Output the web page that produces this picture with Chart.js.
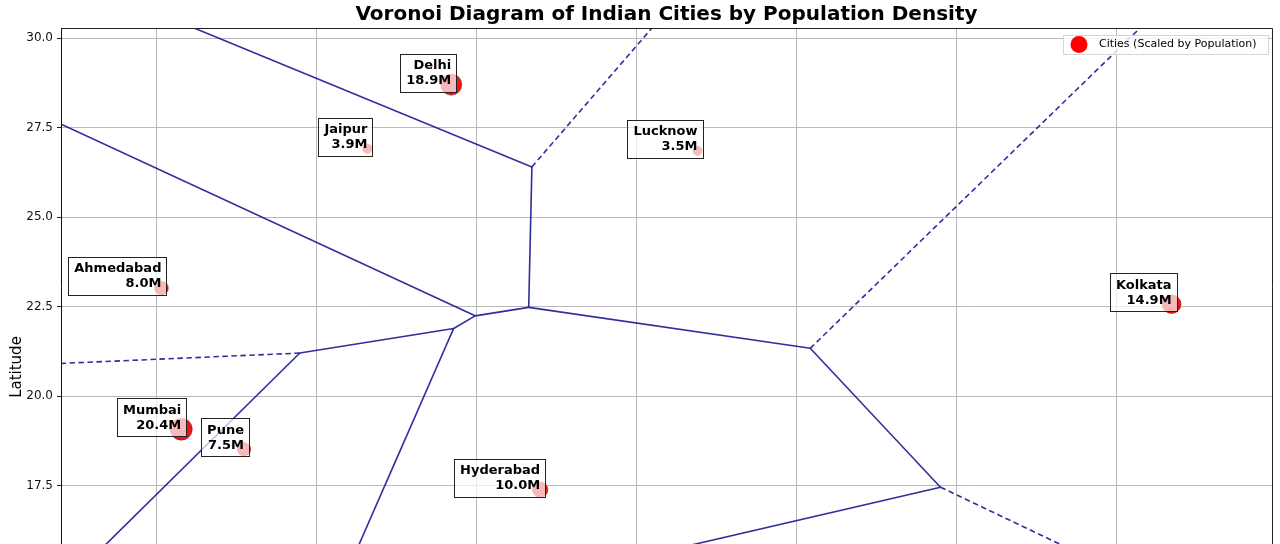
<!DOCTYPE html>
<html>
<head>
<meta charset="utf-8">
<script src="https://cdn.jsdelivr.net/npm/chart.js@4.4.0/dist/chart.umd.min.js"></script>
<style>
  html, body { margin: 0; padding: 0; background: #fff; overflow: hidden; }
</style>
</head>
<body>
<canvas id="voronoi-chart" width="1280" height="544"></canvas>
<script>
// cities (lon / lat / population in millions)
const cityNames = ["Mumbai", "Delhi", "Hyderabad", "Ahmedabad", "Kolkata", "Pune", "Jaipur", "Lucknow"];
const cityLon = [72.88, 77.10, 78.49, 72.57, 88.36, 73.86, 75.79, 80.95];
const cityLat = [19.08, 28.70, 17.39, 23.02, 22.57, 18.52, 26.91, 26.85];
const cityPop = [20.4, 18.9, 10.0, 8.0, 14.9, 7.5, 3.9, 3.5];

// voronoi vertices (some lie outside the visible area)
const vertexLon = [78.361, 78.311, 82.712, 77.473, 77.138, 74.733, 84.748, 78.850, 75.612, 69.103, 25.6];
const vertexLat = [26.402, 22.481, 21.337, 22.244, 21.892, 21.205, 17.460, 15.015, 15.669, 11.285, 65.14];
const solidEdges = [[0,1],[1,2],[1,3],[3,4],[4,5],[4,8],[5,9],[2,6],[6,7],[7,8],[8,9],[0,10],[3,10]];

// open ridges: start vertex -> far point
const dashedFrom = [0, 2, 5, 6];
const dashedToLon = [81.07, 88.86, 69.0, 88.81];
const dashedToLat = [32.0, 32.0, 20.76, 14.0];

const yTicks = [17.5, 20.0, 22.5, 25.0, 27.5, 30.0];

const ridgeColor = "rgba(10,10,140,0.85)";
const datasets = [{
  type: "scatter",
  label: "Cities (Scaled by Population)",
  data: cityLon.map((lon, i) => ({ x: lon, y: cityLat[i] })),
  pointRadius: cityPop.map(p => 11 * Math.sqrt(p / 20.4)),
  backgroundColor: "rgba(225,0,0,0.9)",
  borderColor: "rgba(160,0,0,0.5)",
  borderWidth: 1
}];
solidEdges.forEach(([a, b]) => {
  datasets.push({
    type: "scatter",
    showLine: true,
    data: [{ x: vertexLon[a], y: vertexLat[a] }, { x: vertexLon[b], y: vertexLat[b] }],
    borderColor: ridgeColor,
    borderWidth: 1.6,
    pointRadius: 0
  });
});
dashedFrom.forEach((v, i) => {
  datasets.push({
    type: "scatter",
    showLine: true,
    data: [{ x: vertexLon[v], y: vertexLat[v] }, { x: dashedToLon[i], y: dashedToLat[i] }],
    borderColor: ridgeColor,
    borderWidth: 1.6,
    borderDash: [5.5, 3.5],
    pointRadius: 0
  });
});

const decorations = {
  id: "decorations",
  afterDatasetsDraw(chart) {
    const { ctx, scales: { x, y } } = chart;
    ctx.save();
    // city labels
    ctx.font = 'bold 13px "DejaVu Sans"';
    cityNames.forEach((name, i) => {
      const px = x.getPixelForValue(cityLon[i]);
      const py = y.getPixelForValue(cityLat[i]);
      const pop = cityPop[i].toFixed(1) + "M";
      const w = Math.max(ctx.measureText(name).width, ctx.measureText(pop).width);
      const left = Math.round(px - w - 6), top = Math.round(py - 31);
      const right = Math.round(px + 5), bottom = Math.round(py + 7);
      ctx.fillStyle = "rgba(255,255,255,0.7)";
      ctx.fillRect(left, top, right - left, bottom - top);
      ctx.strokeStyle = "#222";
      ctx.lineWidth = 1;
      ctx.strokeRect(left + 0.5, top + 0.5, right - left, bottom - top);
      ctx.fillStyle = "#000";
      ctx.textAlign = "right";
      ctx.textBaseline = "middle";
      ctx.fillText(name, px, py - 19);
      ctx.fillText(pop, px, py - 4);
    });
    ctx.restore();
  },
  afterDraw(chart) {
    const { ctx, chartArea: ca } = chart;
    ctx.save();
    // frame
    ctx.strokeStyle = "#222";
    ctx.lineWidth = 1;
    ctx.beginPath();
    ctx.moveTo(ca.left, ca.top + 0.5);
    ctx.lineTo(ca.right + 0.5, ca.top + 0.5);
    ctx.lineTo(ca.right + 0.5, ca.bottom + 2);
    ctx.stroke();
    // title
    ctx.fillStyle = "#000";
    ctx.font = 'bold 20px "DejaVu Sans"';
    ctx.textAlign = "center";
    ctx.textBaseline = "middle";
    ctx.fillText("Voronoi Diagram of Indian Cities by Population Density", (ca.left + ca.right) / 2, 15);
    // y label
    ctx.font = '15px "DejaVu Sans"';
    ctx.translate(17, 367);
    ctx.rotate(-Math.PI / 2);
    ctx.fillText("Latitude", 0, 0);
    ctx.restore();
    // legend
    ctx.save();
    const lx = 1063, ly = 35, lw = 205, lh = 19;
    ctx.fillStyle = "rgba(255,255,255,0.8)";
    ctx.fillRect(lx, ly, lw, lh);
    ctx.strokeStyle = "#d6d6d6";
    ctx.strokeRect(lx + 0.5, ly + 0.5, lw, lh);
    ctx.fillStyle = "#f00";
    ctx.beginPath();
    ctx.arc(1079, 44.5, 8.5, 0, Math.PI * 2);
    ctx.fill();
    ctx.fillStyle = "#000";
    ctx.font = '11px "DejaVu Sans"';
    ctx.textAlign = "left";
    ctx.textBaseline = "middle";
    ctx.fillText("Cities (Scaled by Population)", 1099, 44.5);
    ctx.restore();
  }
};

new Chart(document.getElementById("voronoi-chart"), {
  type: "scatter",
  data: { datasets: datasets },
  options: {
    responsive: false,
    animation: false,
    events: [],
    layout: { autoPadding: false, padding: { top: 28, right: 8, bottom: 0, left: 0 } },
    plugins: {
      legend: { display: false },
      title: { display: false },
      tooltip: { enabled: false }
    },
    scales: {
      x: {
        type: "linear",
        min: 71.0,
        max: 89.93,
        afterFit: s => { s.height = 0; s.paddingLeft = 0; s.paddingRight = 0; },
        border: { display: false },
        grid: { color: "#bababa", lineWidth: 1, drawTicks: false },
        ticks: { display: false, stepSize: 2.5, includeBounds: false }
      },
      y: {
        type: "linear",
        min: 15.874,
        max: 30.28,
        afterFit: s => { s.width = 61; s.paddingTop = 0; s.paddingBottom = 0; },
        afterBuildTicks: s => { s.ticks = yTicks.map(v => ({ value: v })); },
        border: { display: true, color: "#111", width: 1 },
        grid: { color: "#bababa", lineWidth: 1, tickLength: 4, tickColor: "#222" },
        ticks: {
          color: "#111",
          padding: 4,
          font: { family: "DejaVu Sans", size: 12 },
          callback: v => v.toFixed(1)
        }
      }
    }
  },
  plugins: [decorations]
});
</script>
</body>
</html>
